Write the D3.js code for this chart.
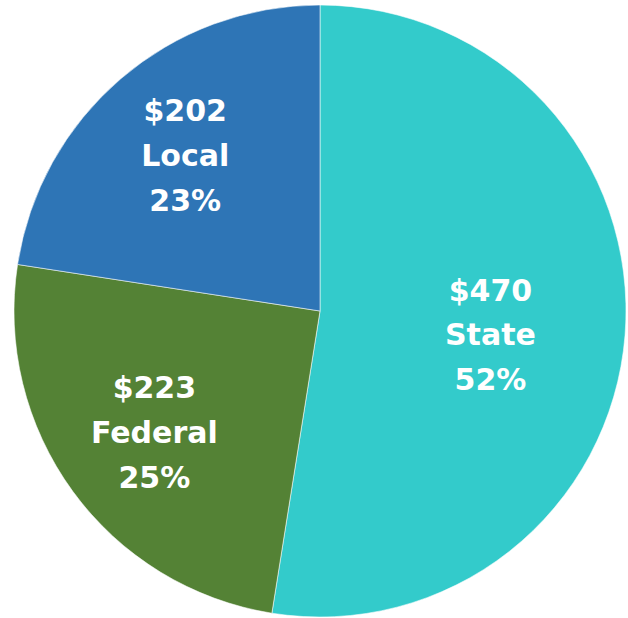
<!DOCTYPE html>
<html>
<head>
<meta charset="utf-8">
<script src="https://cdn.jsdelivr.net/npm/d3@7"></script>
<style>
  html, body { margin: 0; padding: 0; background: #ffffff; }
  svg { display: block; }
</style>
</head>
<body>
<svg id="chart" width="628" height="618"></svg>
<script>
const categories = ["State", "Federal", "Local"];
const values = [470, 223, 202];
const amountLabels = ["$470", "$223", "$202"];
const percentLabels = ["52%", "25%", "23%"];
const colors = ["#33CBCB", "#548235", "#2E75B6"];

const width = 628, height = 618;
const cx = 320, cy = 311, R = 306;
const labelRadius = [171, 205, 207];
const labelNudgeY = [10, 0, 1];

const svg = d3.select("#chart");
const g = svg.append("g").attr("transform", `translate(${cx},${cy})`);

const pie = d3.pie().sort(null).value(d => d.value);
const data = categories.map((c, i) => ({ name: c, value: values[i], amt: amountLabels[i], pct: percentLabels[i], color: colors[i] }));
const arcs = pie(data);

const arc = d3.arc().innerRadius(0).outerRadius(R);

g.selectAll("path.slice")
  .data(arcs)
  .join("path")
  .attr("class", "slice")
  .attr("d", arc)
  .attr("fill", d => d.data.color)
  .attr("stroke", "rgba(255,255,255,0.55)")
  .attr("stroke-width", 1);

const lines = d => [d.data.amt, d.data.name, d.data.pct];

arcs.forEach((d, i) => {
  const la = d3.arc().innerRadius(labelRadius[i]).outerRadius(labelRadius[i]);
  const [x, y0] = la.centroid(d);
  const y = y0 + labelNudgeY[i];
  const t = g.append("text")
    .attr("text-anchor", "middle")
    .attr("fill", "#ffffff")
    .attr("font-family", "'DejaVu Sans', Verdana, sans-serif")
    .attr("font-weight", "bold")
    .attr("font-size", 30);
  lines(d).forEach((s, k) => {
    t.append("tspan")
      .attr("x", x)
      .attr("y", y + 11 + (k - 1) * 45)
      .text(s);
  });
});
</script>
</body>
</html>
